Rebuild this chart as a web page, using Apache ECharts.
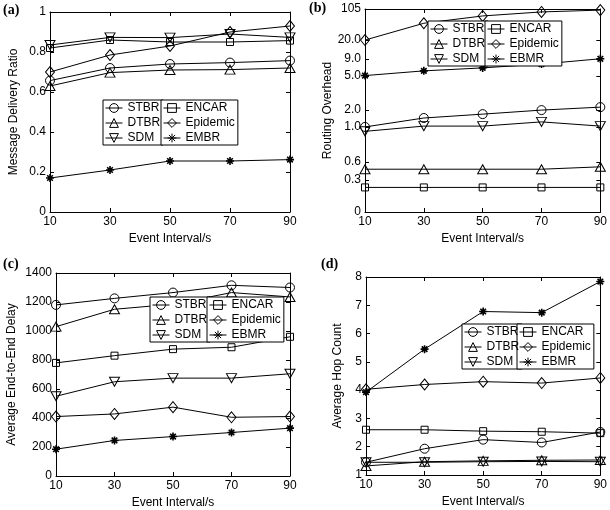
<!DOCTYPE html>
<html><head><meta charset="utf-8">
<script src="https://cdn.jsdelivr.net/npm/echarts@6/dist/echarts.min.js"></script>
<style>html,body{margin:0;padding:0;background:#fff}#c{width:610px;height:510px}</style>
</head><body><div id="c"></div>
<script>
const xVals = [10, 30, 50, 70, 90];

// Panel (a) Message Delivery Ratio
const a_STBR = [0.657, 0.72, 0.74, 0.747, 0.757];
const a_DTBR = [0.63, 0.697, 0.71, 0.712, 0.72];
const a_SDM = [0.835, 0.873, 0.872, 0.89, 0.873];
const a_ENCAR = [0.82, 0.86, 0.85, 0.85, 0.857];
const a_Epidemic = [0.70, 0.785, 0.83, 0.90, 0.93];
const a_EMBR = [0.17, 0.21, 0.255, 0.255, 0.262];

// Panel (b) Routing Overhead (non-uniform axis)
const b_STBR = [1.0, 1.53, 1.76, 2.0, 2.26];
const b_DTBR = [0.48, 0.48, 0.48, 0.48, 0.52];
const b_SDM = [0.95, 1.05, 1.05, 1.3, 1.05];
const b_ENCAR = [0.23, 0.23, 0.23, 0.23, 0.23];
const b_Epidemic = [20, 66, 86, 97, 102];
const b_EBMR = [5.1, 6.2, 6.9, 7.8, 9.1];
const b_tickValues = [0, 0.3, 0.6, 1.0, 2.0, 5.0, 9.0, 20.0, 105];
const b_tickLabels = ['0', '0.3', '0.6', '1.0', '2.0', '5.0', '9.0', '20.0', '105'];
const b_tickScale = [0, 0.158, 0.246, 0.419, 0.502, 0.670, 0.754, 0.847, 1];

// Panel (c) Average End-to-End Delay
const c_STBR = [1180, 1225, 1265, 1315, 1300];
const c_DTBR = [1030, 1150, 1185, 1265, 1235];
const c_SDM = [550, 650, 675, 675, 705];
const c_ENCAR = [780, 830, 875, 888, 960];
const c_Epidemic = [410, 428, 475, 405, 410];
const c_EBMR = [185, 245, 272, 300, 330];

// Panel (d) Average Hop Count
const d_STBR = [1.45, 1.93, 2.25, 2.15, 2.52];
const d_DTBR = [1.32, 1.47, 1.5, 1.52, 1.53];
const d_SDM = [1.45, 1.45, 1.47, 1.48, 1.47];
const d_ENCAR = [2.6, 2.6, 2.55, 2.53, 2.48];
const d_Epidemic = [4.03, 4.2, 4.3, 4.25, 4.43];
const d_EBMR = [3.93, 5.45, 6.78, 6.74, 7.84];

function bMap(v) {
  for (let i = 0; i < b_tickValues.length - 1; i++) {
    const v0 = b_tickValues[i], v1 = b_tickValues[i + 1];
    if (v <= v1) return b_tickScale[i] + (v - v0) / (v1 - v0) * (b_tickScale[i + 1] - b_tickScale[i]);
  }
  return 1;
}

const FONT = '"Liberation Sans", Arial, sans-serif';
const STAR = 'path://M5,0L5,10M0,5L10,5M1.5,1.5L8.5,8.5M1.5,8.5L8.5,1.5';
const SYM = {
  STBR: 'circle',
  DTBR: 'path://M5,0L10,9L0,9Z',
  SDM: 'path://M0,0L10,0L5,9Z',
  ENCAR: 'rect',
  Epidemic: 'path://M5,0L10,6L5,12L0,6Z',
  EBMR: STAR,
  EMBR: STAR
};
const SIZE = { STBR: 9, DTBR: [10, 9], SDM: [10, 9], ENCAR: 7, Epidemic: [9, 11], EBMR: 8, EMBR: 8 };

function mkSeries(name, vals, idx, mapFn) {
  const star = name === 'EBMR' || name === 'EMBR';
  return {
    type: 'line', name: name, xAxisIndex: idx * 2, yAxisIndex: idx * 2,
    data: vals.map((v, i) => [xVals[i], mapFn ? mapFn(v) : v]),
    symbol: SYM[name], symbolSize: SIZE[name], showAllSymbol: true,
    lineStyle: { color: '#000', width: 1 },
    itemStyle: { color: star ? '#000' : 'rgba(255,255,255,0)', borderColor: '#000', borderWidth: star ? 1.6 : 1 },
    emphasis: { disabled: true }, animation: false, z: 3
  };
}

const grids = [
  { left: 50, top: 12, width: 240, height: 200 },
  { left: 365, top: 9, width: 238, height: 203 },
  { left: 56, top: 273, width: 234, height: 203 },
  { left: 366, top: 277, width: 237, height: 198 }
];

const axLine = { show: true, onZero: false, lineStyle: { color: '#000', width: 1 } };
const axTick = { show: true, inside: true, length: 4, lineStyle: { color: '#000' } };
const axLabel = { color: '#000', fontSize: 12, fontFamily: FONT };
const nameStyle = { color: '#000', fontSize: 12, fontFamily: FONT };

const xAxes = [], yAxes = [];
const yCfg = [
  { min: 0, max: 1, interval: 0.2, name: 'Message Delivery Ratio', gap: 30 },
  { min: 0, max: 1, custom: true, name: 'Routing Overhead', gap: 31 },
  { min: 0, max: 1400, interval: 200, name: 'Average End-to-End Delay', gap: 38 },
  { min: 1, max: 8, interval: 1, name: 'Average Hop Count', gap: 22 }
];
for (let g = 0; g < 4; g++) {
  xAxes.push({ type: 'value', gridIndex: g, min: 10, max: 90, interval: 20, position: 'bottom',
    axisLine: axLine, axisTick: axTick, splitLine: { show: false },
    axisLabel: Object.assign({ margin: 4 }, axLabel),
    name: 'Event Interval/s', nameLocation: 'middle', nameGap: 21, nameTextStyle: nameStyle });
  xAxes.push({ type: 'value', gridIndex: g, min: 10, max: 90, interval: 20, position: 'top',
    axisLine: axLine, axisTick: axTick, splitLine: { show: false }, axisLabel: { show: false } });
  const c = yCfg[g];
  const base = { type: 'value', gridIndex: g, min: c.min, max: c.max, splitLine: { show: false },
    axisLine: axLine };
  if (c.interval) base.interval = c.interval;
  const yl = Object.assign({}, base, { position: 'left',
    axisTick: c.custom ? Object.assign({ customValues: b_tickScale }, axTick) : axTick,
    axisLabel: Object.assign({ margin: 4, formatter: function (v) { return String(v); } }, axLabel),
    name: c.name, nameLocation: 'middle', nameGap: c.gap, nameTextStyle: nameStyle });
  if (c.custom) {
    yl.axisLabel.customValues = b_tickScale;
    yl.axisLabel.formatter = function (v) {
      let best = 0;
      for (let i = 0; i < b_tickScale.length; i++) if (Math.abs(b_tickScale[i] - v) < Math.abs(b_tickScale[best] - v)) best = i;
      return b_tickLabels[best];
    };
  }
  yAxes.push(yl);
  yAxes.push(Object.assign({}, base, { position: 'right',
    axisTick: c.custom ? Object.assign({ customValues: b_tickScale }, axTick) : axTick,
    axisLabel: { show: false } }));
}

const series = [
  mkSeries('STBR', a_STBR, 0), mkSeries('DTBR', a_DTBR, 0), mkSeries('SDM', a_SDM, 0),
  mkSeries('ENCAR', a_ENCAR, 0), mkSeries('Epidemic', a_Epidemic, 0), mkSeries('EMBR', a_EMBR, 0),
  mkSeries('STBR', b_STBR, 1, bMap), mkSeries('DTBR', b_DTBR, 1, bMap), mkSeries('SDM', b_SDM, 1, bMap),
  mkSeries('ENCAR', b_ENCAR, 1, bMap), mkSeries('Epidemic', b_Epidemic, 1, bMap), mkSeries('EBMR', b_EBMR, 1, bMap),
  mkSeries('STBR', c_STBR, 2), mkSeries('DTBR', c_DTBR, 2), mkSeries('SDM', c_SDM, 2),
  mkSeries('ENCAR', c_ENCAR, 2), mkSeries('Epidemic', c_Epidemic, 2), mkSeries('EBMR', c_EBMR, 2),
  mkSeries('STBR', d_STBR, 3), mkSeries('DTBR', d_DTBR, 3), mkSeries('SDM', d_SDM, 3),
  mkSeries('ENCAR', d_ENCAR, 3), mkSeries('Epidemic', d_Epidemic, 3), mkSeries('EBMR', d_EBMR, 3)
];

function mkLegend(names, left, top) {
  return {
    orient: 'vertical', left: left, top: top, selectedMode: false,
    data: names.map(n => ({ name: n, itemStyle: { color: 'rgba(255,255,255,0)', borderColor: '#000', borderWidth: 1 } })),
    itemWidth: 17, itemHeight: 11, itemGap: 1, padding: [1, 3, 0, 2],
    itemStyle: { color: 'rgba(255,255,255,0)', borderColor: '#000', borderWidth: 1 },
    lineStyle: { color: '#000', width: 1 },
    backgroundColor: '#fff', borderColor: '#000', borderWidth: 1,
    textStyle: { color: '#000', fontSize: 12, fontFamily: FONT, lineHeight: 14 }, z: 10
  };
}
const legends = [
  mkLegend(['STBR', 'DTBR', 'SDM'], 103, 100), mkLegend(['ENCAR', 'Epidemic', 'EMBR'], 161, 100),
  mkLegend(['STBR', 'DTBR', 'SDM'], 428, 21), mkLegend(['ENCAR', 'Epidemic', 'EBMR'], 485, 21),
  mkLegend(['STBR', 'DTBR', 'SDM'], 150, 297), mkLegend(['ENCAR', 'Epidemic', 'EBMR'], 207, 297),
  mkLegend(['STBR', 'DTBR', 'SDM'], 462, 324), mkLegend(['ENCAR', 'Epidemic', 'EBMR'], 517, 324)
];

const tStyle = { color: '#000', fontSize: 14, fontWeight: 'bold', fontFamily: '"Liberation Serif", "Times New Roman", serif' };
const titles = [
  { text: '(a)', left: 3, top: 3, padding: 0, textStyle: tStyle },
  { text: '(b)', left: 309, top: 1, padding: 0, textStyle: tStyle },
  { text: '(c)', left: 3, top: 257, padding: 0, textStyle: tStyle },
  { text: '(d)', left: 321, top: 257, padding: 0, textStyle: tStyle }
];

const chart = echarts.init(document.getElementById('c'), null, { renderer: 'canvas' });
chart.setOption({
  backgroundColor: '#fff', animation: false,
  title: titles, grid: grids, xAxis: xAxes, yAxis: yAxes, legend: legends, series: series
});
</script></body></html>
